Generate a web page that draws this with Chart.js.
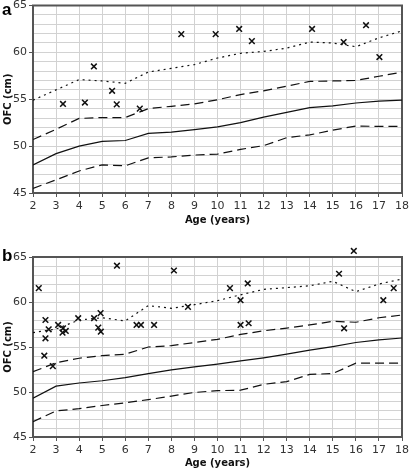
<!DOCTYPE html>
<html>
<head>
<meta charset="utf-8">
<script src="https://cdn.jsdelivr.net/npm/chart.js@4"></script>
<style>
body { margin: 0; background: #fff; }
canvas { position: absolute; left: 0; }
</style>
</head>
<body>
<canvas id="panelA" width="409" height="228" style="top:0px"></canvas>
<canvas id="panelB" width="409" height="236" style="top:235px"></canvas>
<script>
// reference curves, one value per year of age
const ages = [2, 3, 4, 5, 6, 7, 8, 9, 10, 11, 12, 13, 14, 15, 16, 17, 18];

const aMedian = [48.0, 49.2, 50.0, 50.5, 50.6, 51.35, 51.5, 51.75, 52.05, 52.5, 53.1, 53.6, 54.1, 54.3, 54.6, 54.8, 54.9];
const aPlus2 = [50.7, 51.8, 52.95, 53.05, 53.05, 54.0, 54.25, 54.5, 54.95, 55.5, 55.9, 56.4, 56.9, 56.95, 57.0, 57.45, 57.9];
const aMinus2 = [45.5, 46.4, 47.35, 48.0, 47.9, 48.75, 48.85, 49.05, 49.15, 49.65, 50.05, 50.9, 51.2, 51.7, 52.15, 52.1, 52.1];
const aPlus3 = [54.9, 56.0, 57.1, 56.95, 56.7, 57.9, 58.3, 58.7, 59.4, 59.9, 60.1, 60.45, 61.1, 61.0, 60.6, 61.55, 62.3];

const bMedian = [49.3, 50.65, 51.0, 51.25, 51.6, 52.05, 52.45, 52.8, 53.1, 53.45, 53.8, 54.2, 54.65, 55.05, 55.5, 55.8, 56.0];
const bPlus2 = [52.25, 53.25, 53.75, 54.05, 54.2, 55.0, 55.15, 55.5, 55.85, 56.4, 56.8, 57.1, 57.45, 57.85, 57.75, 58.25, 58.55];
const bMinus2 = [46.7, 47.9, 48.15, 48.5, 48.8, 49.15, 49.55, 49.95, 50.15, 50.2, 50.85, 51.15, 51.95, 52.05, 53.2, 53.2, 53.2];
const bPlus3 = [56.6, 57.0, 58.0, 58.25, 57.9, 59.6, 59.3, 59.7, 60.15, 60.8, 61.4, 61.6, 61.8, 62.3, 61.15, 62.0, 62.55];

// patients
const aAge = [3.3, 4.25, 4.64, 5.43, 5.63, 6.63, 8.43, 9.92, 10.94, 11.49, 14.1, 15.47, 16.44, 17.02];
const aOfc = [54.5, 54.65, 58.5, 55.9, 54.45, 54.0, 61.95, 61.95, 62.5, 61.2, 62.5, 61.1, 62.9, 59.5];

const bAge = [2.25, 2.54, 2.54, 2.49, 2.68, 2.86, 3.09, 3.30, 3.42, 3.28, 3.96, 4.65, 4.93, 4.83, 4.94, 5.64,
  6.49, 6.68, 7.25, 8.11, 8.72, 10.54, 11.31, 11.0, 11.0, 11.35, 15.27, 15.91, 15.49, 17.19, 17.64];
const bOfc = [61.54, 58.0, 55.97, 54.03, 56.97, 52.88, 57.45, 57.08, 56.78, 56.6, 58.2, 58.2, 58.76, 57.15, 56.7, 64.03,
  57.45, 57.45, 57.45, 63.5, 59.46, 61.54, 62.06, 60.2, 57.45, 57.64, 63.14, 65.67, 57.08, 60.2, 61.54];

const frame = {
  id: 'frame',
  beforeDatasetsDraw(chart) {
    const { ctx, chartArea: c } = chart;
    ctx.save();
    ctx.strokeStyle = '#555';
    ctx.lineWidth = 2;
    ctx.strokeRect(c.left, c.top, c.right - c.left, c.bottom - c.top);
    ctx.restore();
  },
  afterDatasetsDraw(chart) {
    // chart.js skips points outside the chart area, the reference does not
    const whole = { left: 0, top: 0, right: chart.width, bottom: chart.height };
    const c = chart.chartArea;
    chart.getDatasetMeta(4).data.forEach(el => {
      if (el.y < c.top || el.y > c.bottom) el.draw(chart.ctx, whole);
    });
  },
  afterDraw(chart, args, opts) {
    const ctx = chart.ctx;
    ctx.save();
    ctx.fillStyle = '#000';
    ctx.font = 'bold 17px "Liberation Sans"';
    ctx.textBaseline = 'alphabetic';
    ctx.fillText(opts.letter, 2, opts.y);
    ctx.restore();
  }
};

function curve(vals, dash) {
  return {
    data: ages.map((a, i) => ({ x: a, y: vals[i] })),
    showLine: true,
    borderColor: '#111',
    borderWidth: 1.2,
    borderDash: dash,
    pointRadius: 0,
    tension: 0
  };
}

function makePanel(id, letter, letterY, median, plus2, minus2, plus3, ptAge, ptOfc, top, xHeight) {
  new Chart(document.getElementById(id), {
    type: 'scatter',
    data: {
      datasets: [
        curve(plus3, [2, 4]),
        curve(plus2, [9, 5]),
        curve(median, []),
        curve(minus2, [9, 5]),
        {
          data: ptAge.map((a, i) => ({ x: a, y: ptOfc[i] })),
          pointStyle: 'crossRot',
          pointRadius: 4,
          borderWidth: 1.5,
          borderColor: '#111',
          clip: false
        }
      ]
    },
    options: {
      responsive: false,
      animation: false,
      layout: { padding: { top: top, right: 7, left: 0, bottom: 0 } },
      plugins: {
        legend: { display: false },
        tooltip: { enabled: false },
        frame: { letter: letter, y: letterY }
      },
      scales: {
        x: {
          type: 'linear', min: 2, max: 18,
          border: { display: false },
          grid: { color: '#d2d2d2', tickLength: 4, tickColor: '#555' },
          ticks: { stepSize: 1, autoSkip: false, maxRotation: 0, padding: 3, color: '#333',
            font: { family: 'DejaVu Sans', size: 11 } },
          title: { display: true, text: 'Age (years)', color: '#111', padding: { top: 0, bottom: 2 },
            font: { family: 'DejaVu Sans', size: 10, weight: 'bold' } },
          afterFit(s) { s.height = xHeight; s.paddingLeft = 0; s.paddingRight = 0; }
        },
        y: {
          min: 45, max: 65,
          border: { display: false },
          grid: {
            color: '#d2d2d2', tickLength: 4,
            tickColor: c => (c.tick && c.tick.value % 5 === 0) ? '#555' : 'rgba(0,0,0,0)'
          },
          ticks: { stepSize: 1, autoSkip: false, padding: 2, color: '#333',
            font: { family: 'DejaVu Sans', size: 11 },
            callback: v => v % 5 === 0 ? v : '' },
          title: { display: true, text: 'OFC (cm)', color: '#111', padding: { top: 2, bottom: 0 },
            font: { family: 'DejaVu Sans', size: 10, weight: 'bold' } },
          afterFit(s) { s.width = 33; s.paddingTop = 0; s.paddingBottom = 0; }
        }
      }
    },
    plugins: [frame]
  });
}

makePanel('panelA', 'a', 15, aMedian, aPlus2, aMinus2, aPlus3, aAge, aOfc, 5, 35);
makePanel('panelB', 'b', 26, bMedian, bPlus2, bMinus2, bPlus3, bAge, bOfc, 22, 34);
</script>
</body>
</html>
